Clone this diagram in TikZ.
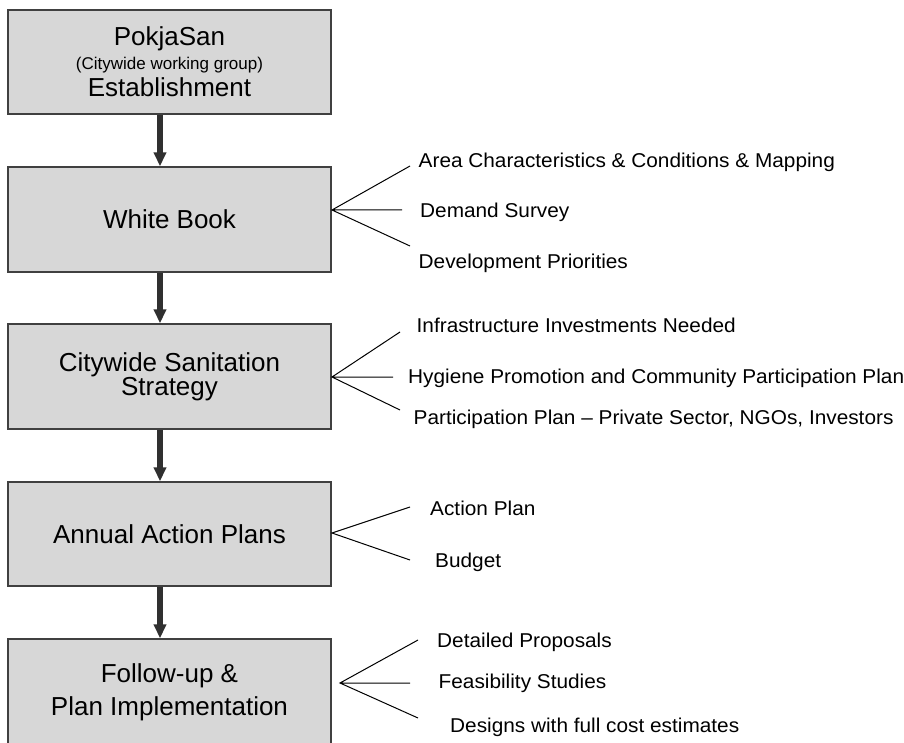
\documentclass[tikz,border=0pt]{standalone}
\usepackage{fontspec}
\setmainfont{Liberation Sans}
\newfontfamily\itemfont[FakeStretch=1.04]{Liberation Sans}
\usetikzlibrary{arrows.meta}
\definecolor{boxfill}{HTML}{D7D7D7}
\definecolor{boxline}{HTML}{404040}
\definecolor{arrowcol}{HTML}{303030}
\begin{document}
\begin{tikzpicture}[x=1pt,y=-1pt,
  stagebox/.style={draw=boxline, line width=1.3pt, fill=boxfill, minimum width=323pt, inner sep=0pt, align=center, font=\fontsize{26}{24}\selectfont},
  flowarrow/.style={draw=arrowcol, line width=6pt, -{Triangle[length=14pt,width=12pt]}},
  fanline/.style={draw=black, line width=1pt},
  item/.style={anchor=base west, inner sep=0pt, font=\itemfont\fontsize{20}{20}\selectfont}]
\useasboundingbox (0,0) rectangle (904,743);

% stage boxes
\node[stagebox, minimum height=104pt] (b1) at (169.5,62) {PokjaSan\\[0pt]{\fontsize{17}{17}\selectfont (Citywide working group)}\\[3pt]Establishment};
\node[stagebox, minimum height=105pt] (b2) at (169.5,219.5) {White Book};
\node[stagebox, minimum height=105pt] (b3) at (169.5,376.5) {Citywide Sanitation\\Strategy};
\node[stagebox, minimum height=104pt] (b4) at (169.5,534) {Annual Action Plans};
\node[stagebox, minimum height=106pt] (b5) at (169.5,692) {Follow-up \&\\[8pt]Plan Implementation};

% flow arrows
\coordinate (ax) at (160,0);
\draw[flowarrow] (b1.south -| ax) -- (b2.north -| ax);
\draw[flowarrow] (b2.south -| ax) -- (b3.north -| ax);
\draw[flowarrow] (b3.south -| ax) -- (b4.north -| ax);
\draw[flowarrow] (b4.south -| ax) -- (b5.north -| ax);

% fans
\coordinate (f2) at (332,210);
\coordinate (f2a) at (410,166);
\coordinate (f2b) at (402,210);
\coordinate (f2c) at (410,246);
\draw[fanline] (f2a) -- (f2) -- (f2c) (f2) -- (f2b);

\coordinate (f3) at (332,377);
\coordinate (f3a) at (400,332);
\coordinate (f3b) at (393,377);
\coordinate (f3c) at (400,410);
\draw[fanline] (f3a) -- (f3) -- (f3c) (f3) -- (f3b);

\coordinate (f4) at (332,533);
\coordinate (f4a) at (410,507);
\coordinate (f4c) at (410,560);
\draw[fanline] (f4a) -- (f4) -- (f4c);

\coordinate (f5) at (340,683);
\coordinate (f5a) at (418,640);
\coordinate (f5b) at (410,683);
\coordinate (f5c) at (418,718);
\draw[fanline] (f5a) -- (f5) -- (f5c) (f5) -- (f5b);

% items
\node[item] (t2a) at (418.5,168) {Area Characteristics \& Conditions \& Mapping};
\node[item] (t2b) at (420,218) {Demand Survey};
\node[item] (t2c) at (418.5,268) {Development Priorities};

\node[item] (t3a) at (416.5,332) {Infrastructure Investments Needed};
\node[item] (t3b) at (408,383) {Hygiene Promotion and Community Participation Plan};
\node[item] (t3c) at (413.5,424) {Participation Plan – Private Sector, NGOs, Investors};

\node[item] (t4a) at (430,515) {Action Plan};
\node[item] (t4b) at (435,567) {Budget};

\node[item] (t5a) at (437,647) {Detailed Proposals};
\node[item] (t5b) at (438.5,688) {Feasibility Studies};
\node[item] (t5c) at (450,732) {Designs with full cost estimates};
\end{tikzpicture}
\end{document}
